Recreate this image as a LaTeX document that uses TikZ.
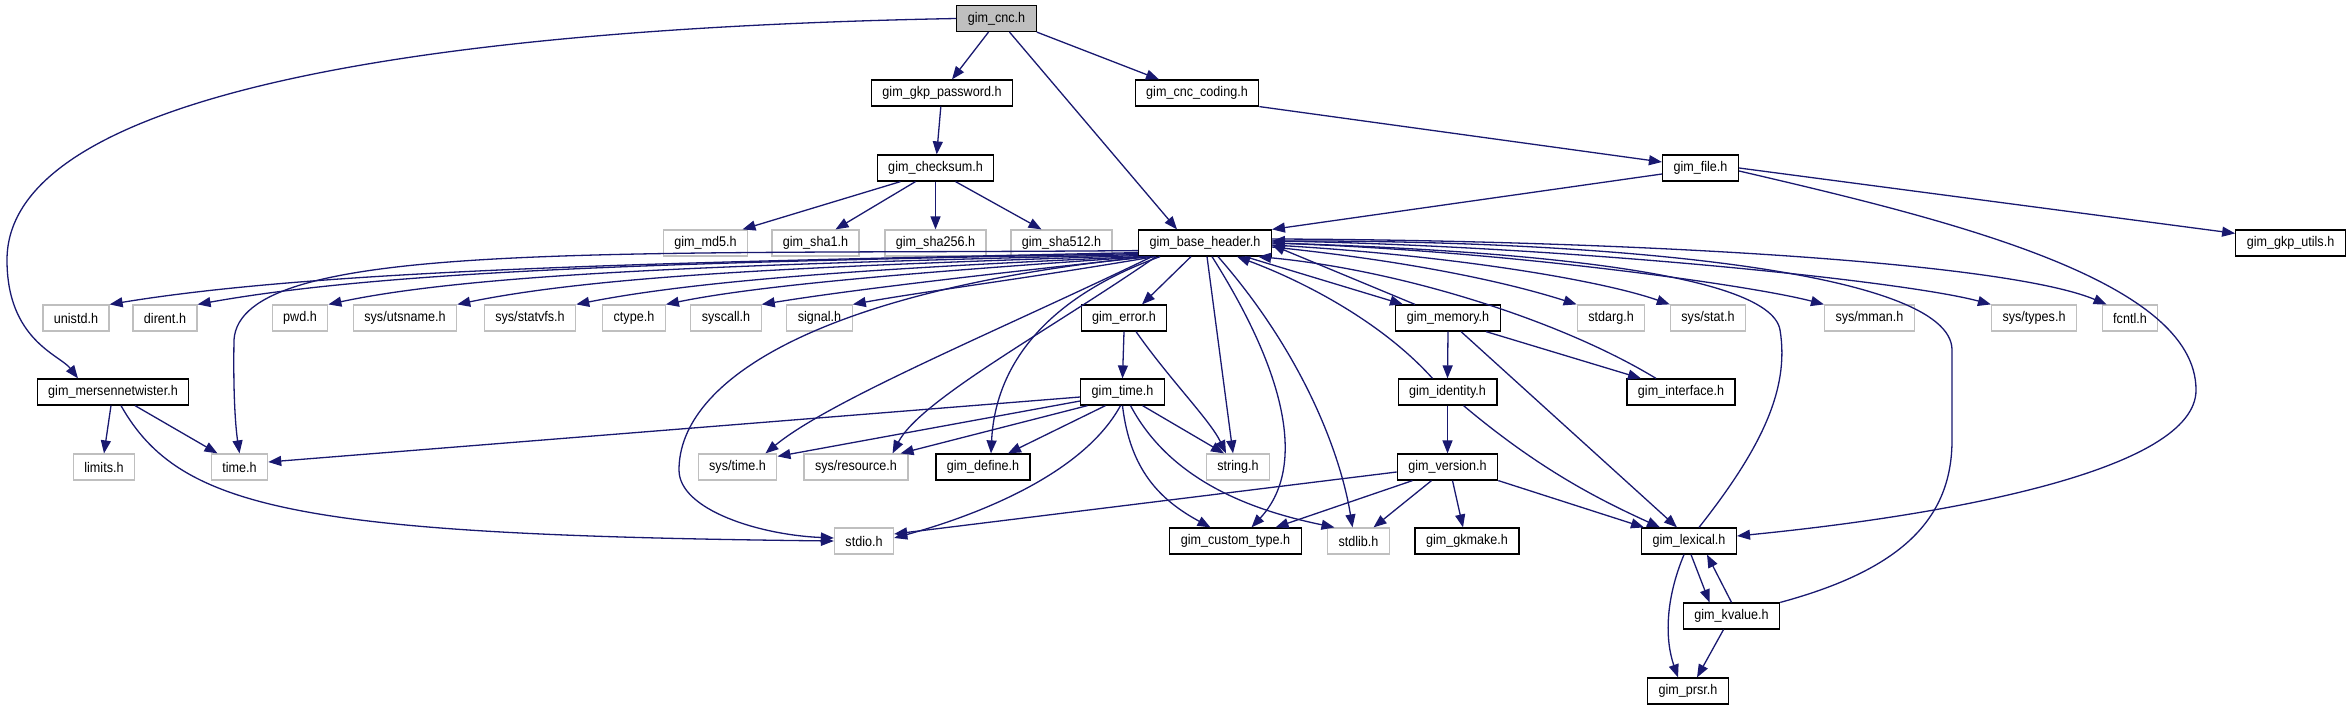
\documentclass[tikz,border=0pt]{standalone}
\usepackage{fontspec}
\setmainfont{Liberation Sans}[FakeStretch=0.9]
\usetikzlibrary{arrows.meta}
\definecolor{edgeblue}{RGB}{25,25,112}
\definecolor{sysgray}{RGB}{191,191,191}
\newcommand{\hdrfont}{\fontsize{14}{16}\selectfont}
\tikzset{
  hdr/.style={draw=black,line width=1.2pt,fill=white,font=\hdrfont,
    inner xsep=11pt,inner ysep=0pt,minimum height=26pt},
  syshdr/.style={hdr,draw=sysgray},
  roothdr/.style={hdr,fill=sysgray},
  dep/.style={draw=edgeblue,line width=1.3pt,->}
}

\begin{document}
\begin{tikzpicture}[x=1pt,y=-1pt,>={Triangle[length=13pt,width=10pt]}]
  \useasboundingbox (0,0) rectangle (2352,709);
  % headers, row by row
  \node[roothdr] (cnc) at (996.5,18.5) {gim\_cnc.h};
  \node[hdr] (gkp) at (942,93) {gim\_gkp\_password.h};
  \node[hdr] (coding) at (1197,93) {gim\_cnc\_coding.h};
  \node[hdr] (chk) at (935.5,168) {gim\_checksum.h};
  \node[hdr] (file) at (1700.5,168) {gim\_file.h};
  \node[syshdr] (md5) at (705.5,243) {gim\_md5.h};
  \node[syshdr] (sha1) at (815.5,243) {gim\_sha1.h};
  \node[syshdr] (sha256) at (935.5,243) {gim\_sha256.h};
  \node[syshdr] (sha512) at (1061.5,243) {gim\_sha512.h};
  \node[hdr] (bh) at (1205,243) {gim\_base\_header.h};
  \node[hdr] (utils) at (2290.5,243) {gim\_gkp\_utils.h};
  \node[syshdr] (unistd) at (76,318) {unistd.h};
  \node[syshdr] (dirent) at (165,318) {dirent.h};
  \node[syshdr] (pwd) at (300,318) {pwd.h};
  \node[syshdr] (utsname) at (405,318) {sys/utsname.h};
  \node[syshdr] (statvfs) at (530,318) {sys/statvfs.h};
  \node[syshdr] (ctype) at (634,318) {ctype.h};
  \node[syshdr] (syscall) at (726,318) {syscall.h};
  \node[syshdr] (signal) at (819.5,318) {signal.h};
  \node[hdr] (error) at (1124,318) {gim\_error.h};
  \node[hdr] (mem) at (1448,318) {gim\_memory.h};
  \node[syshdr] (stdarg) at (1611,318) {stdarg.h};
  \node[syshdr] (sysstat) at (1708,318) {sys/stat.h};
  \node[syshdr] (sysmman) at (1869.5,318) {sys/mman.h};
  \node[syshdr] (systypes) at (2034,318) {sys/types.h};
  \node[syshdr] (fcntl) at (2130,318) {fcntl.h};
  \node[hdr] (mtw) at (113,392) {gim\_mersennetwister.h};
  \node[hdr] (time) at (1122.5,392) {gim\_time.h};
  \node[hdr] (id) at (1447.5,392) {gim\_identity.h};
  \node[hdr] (intf) at (1681,392) {gim\_interface.h};
  \node[syshdr] (limits) at (104,467) {limits.h};
  \node[syshdr] (timeh) at (239.5,467) {time.h};
  \node[syshdr] (systime) at (737.5,467) {sys/time.h};
  \node[syshdr] (sysres) at (856,467) {sys/resource.h};
  \node[hdr] (define) at (983,467) {gim\_define.h};
  \node[syshdr] (string) at (1238,467) {string.h};
  \node[hdr] (ver) at (1447.5,467) {gim\_version.h};
  \node[syshdr] (stdio) at (864,541) {stdio.h};
  \node[hdr] (cust) at (1235.5,541) {gim\_custom\_type.h};
  \node[syshdr] (stdlib) at (1358.5,541) {stdlib.h};
  \node[hdr] (gkmake) at (1467,541) {gim\_gkmake.h};
  \node[hdr] (lex) at (1689,541) {gim\_lexical.h};
  \node[hdr] (kv) at (1731.5,616) {gim\_kvalue.h};
  \node[hdr] (prsr) at (1688,691) {gim\_prsr.h};

  % gim_cnc.h
  \draw[dep] (cnc.west) .. controls (350,30) and (7,110) .. (7,260)
     .. controls (7,340) and (60,355) .. ([xshift=-35pt]mtw.north);
  \draw[dep] ([xshift=-8pt]cnc.south) -- ([xshift=10pt]gkp.north);
  \draw[dep] ([xshift=13pt]cnc.south) -- ([xshift=-28pt]bh.north);
  \draw[dep] (cnc.south east) -- ([xshift=-38pt]coding.north);
  \draw[dep] (gkp) -- (chk);
  \draw[dep] ([xshift=-35pt]chk.south) -- ([xshift=37pt]md5.north);
  \draw[dep] ([xshift=-20pt]chk.south) -- ([xshift=20pt]sha1.north);
  \draw[dep] (chk.south) -- (sha256.north);
  \draw[dep] ([xshift=20pt]chk.south) -- ([xshift=-20pt]sha512.north);
  \draw[dep] (coding.south east) -- ([yshift=6pt]file.west);
  \draw[dep] ([yshift=-6pt]file.west) -- (bh.north east);
  \draw[dep] (file.east) -- ([yshift=-4pt]utils.north west);
  \draw[dep] ([yshift=-3pt]file.east) .. controls (1950,220) and (2196,280) .. (2196,390)
     .. controls (2196,470) and (1950,515) .. ([yshift=5pt]lex.east);

  % gim_base_header.h, left fan
  \draw[dep] ([yshift=4pt]bh.south west) .. controls (700,262) and (330,268) .. (unistd.north east);
  \draw[dep] ([yshift=3pt]bh.south west) .. controls (720,262) and (400,268) .. (dirent.north east);
  \draw[dep] ([yshift=2pt]bh.south west) .. controls (760,264) and (480,272) .. (pwd.north east);
  \draw[dep] ([yshift=1pt]bh.south west) .. controls (820,266) and (600,275) .. (utsname.north east);
  \draw[dep] ([xshift=2pt]bh.south west) .. controls (880,268) and (700,280) .. (statvfs.north east);
  \draw[dep] ([xshift=7pt]bh.south west) .. controls (920,272) and (760,285) .. (ctype.north east);
  \draw[dep] ([xshift=12pt]bh.south west) .. controls (980,275) and (850,290) .. (syscall.north east);
  \draw[dep] ([xshift=17pt]bh.south west) .. controls (1030,278) and (920,292) .. (signal.north east);
  \draw[dep] ([yshift=6pt]bh.south west) .. controls (600,255) and (240,240) .. (234,340)
     .. controls (233,400) and (236,430) .. (timeh.north);
  \draw[dep] ([xshift=10pt]bh.south west) .. controls (820,290) and (679,380) .. (679,470)
     .. controls (679,510) and (760,535) .. ([yshift=3pt]stdio.west);
  \draw[dep] ([xshift=14pt]bh.south west) .. controls (1000,330) and (830,400) .. ([xshift=-12pt]systime.north east);
  \draw[dep] ([xshift=18pt]bh.south west) .. controls (1050,330) and (920,400) .. ([xshift=-16pt]sysres.north east);
  \draw[dep] ([xshift=22pt]bh.south west) .. controls (1040,300) and (995,370) .. ([xshift=8pt]define.north);
  \draw[dep] ([xshift=-14pt]bh.south) -- ([xshift=18pt]error.north);
  \draw[dep] ([xshift=2pt]bh.south) -- ([xshift=-5pt]string.north);
  \draw[dep] ([xshift=7pt]bh.south) .. controls (1290,380) and (1305,470) .. ([xshift=16pt]cust.north);
  \draw[dep] ([xshift=13pt]bh.south) .. controls (1300,350) and (1340,450) .. ([xshift=-6pt]stdlib.north);
  \draw[dep] ([xshift=40pt]bh.south) -- ([xshift=-45pt]mem.north);

  % gim_base_header.h, right fan
  \draw[dep] ([yshift=-4pt]bh.east) .. controls (1400,260) and (1500,280) .. (stdarg.north west);
  \draw[dep] ([yshift=-2pt]bh.east) .. controls (1450,255) and (1600,280) .. (sysstat.north west);
  \draw[dep] (bh.east) .. controls (1500,250) and (1750,285) .. (sysmman.north west);
  \draw[dep] ([yshift=2pt]bh.east) .. controls (1550,245) and (1900,280) .. (systypes.north west);
  \draw[dep] ([yshift=4pt]bh.east) .. controls (1600,240) and (2000,260) .. ([xshift=5pt]fcntl.north west);

  % back to gim_base_header.h
  \draw[dep] ([xshift=-33pt]mem.north) -- ([yshift=-2pt]bh.east);
  \draw[dep] ([xshift=-15pt]id.north) .. controls (1380,320) and (1300,280) .. ([xshift=32pt]bh.south);
  \draw[dep] ([xshift=-25pt]intf.north) .. controls (1560,320) and (1400,270) .. ([xshift=53pt]bh.south);
  \draw[dep] ([xshift=10pt]lex.north) .. controls (1760,450) and (1790,390) .. (1780,330)
     .. controls (1770,270) and (1500,250) .. (bh.east);
  \draw[dep] (kv.north east) .. controls (1900,570) and (1952,520) .. (1952,440) -- (1952,350)
     .. controls (1952,270) and (1600,240) .. ([yshift=2pt]bh.east);

  % gim_error.h, gim_time.h
  \draw[dep] (error.south) -- (time.north);
  \draw[dep] ([xshift=12pt]error.south) .. controls (1170,380) and (1210,420) .. ([xshift=-12pt]string.north);
  \draw[dep] ([yshift=-5pt]time.west) -- ([yshift=5pt]timeh.east);
  \draw[dep] ([yshift=-9pt]time.west) -- ([yshift=-3pt]systime.north east);
  \draw[dep] ([xshift=-35pt]time.south) -- ([xshift=-8pt]sysres.north east);
  \draw[dep] ([xshift=-17pt]time.south) -- ([xshift=25pt]define.north);
  \draw[dep] ([xshift=-2pt]time.south) .. controls (1080,480) and (960,520) .. ([yshift=3pt]stdio.east);
  \draw[dep] (time.south) .. controls (1130,470) and (1160,500) .. ([xshift=-25pt]cust.north);
  \draw[dep] ([xshift=20pt]time.south) -- ([xshift=-14pt]string.north);
  \draw[dep] ([xshift=8pt]time.south) .. controls (1170,480) and (1250,510) .. ([xshift=-24pt]stdlib.north);

  % gim_memory.h, gim_identity.h, gim_version.h
  \draw[dep] (mem.south) -- (id.north);
  \draw[dep] ([xshift=38pt]mem.south) -- ([xshift=-40pt]intf.north);
  \draw[dep] ([xshift=13pt]mem.south) -- ([xshift=-12pt]lex.north);
  \draw[dep] (id.south) -- (ver.north);
  \draw[dep] ([xshift=16pt]id.south) .. controls (1540,470) and (1600,500) .. ([xshift=-29pt]lex.north);
  \draw[dep] ([yshift=-5pt]ver.west) -- ([yshift=7pt]stdio.east);
  \draw[dep] ([xshift=-35pt]ver.south) -- ([xshift=40pt]cust.north);
  \draw[dep] ([xshift=-16pt]ver.south) -- ([xshift=15pt]stdlib.north);
  \draw[dep] ([xshift=5pt]ver.south) -- ([xshift=-4pt]gkmake.north);
  \draw[dep] (ver.south east) -- ([xshift=-45pt]lex.north);

  % gim_lexical.h, gim_kvalue.h
  \draw[dep] ([xshift=2pt]lex.south) -- ([xshift=-22pt]kv.north);
  \draw[dep] (kv.north) -- ([xshift=18pt]lex.south);
  \draw[dep] ([xshift=-5pt]lex.south) .. controls (1665,600) and (1665,640) .. ([xshift=-10pt]prsr.north);
  \draw[dep] ([xshift=-8pt]kv.south) -- ([xshift=9pt]prsr.north);

  % gim_mersennetwister.h
  \draw[dep] ([xshift=-2pt]mtw.south) -- (limits.north);
  \draw[dep] ([xshift=22pt]mtw.south) -- ([xshift=-22pt]timeh.north);
  \draw[dep] ([xshift=8pt]mtw.south) .. controls (180,510) and (300,535) .. (stdio.west);
\end{tikzpicture}
\end{document}
